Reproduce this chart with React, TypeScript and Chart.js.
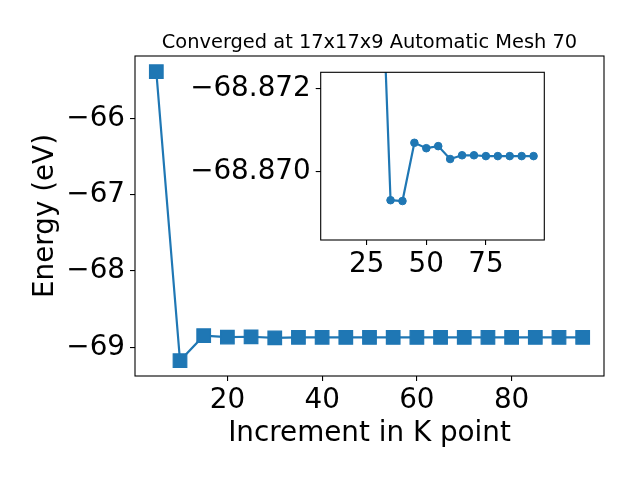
import React, { useEffect, useRef } from "react";
import { Chart, registerables } from "chart.js";

Chart.register(...registerables);

// ---- data ----
const kPoints = [5, 10, 15, 20, 25, 30, 35, 40, 45, 50, 55, 60, 65, 70, 75, 80, 85, 90, 95];
const energies = [
  -65.39, -69.176, -68.848, -68.866, -68.862, -68.877, -68.8693, -68.8693, -68.8707, -68.8706,
  -68.8706, -68.8703, -68.8704, -68.8704, -68.8704, -68.8704, -68.8704, -68.8704, -68.8704,
];
const insetKPoints = [30, 35, 40, 45, 50, 55, 60, 65, 70, 75, 80, 85, 90, 95];
const insetEnergies = [
  -68.877, -68.86931, -68.86929, -68.87069, -68.87056, -68.87061, -68.8703, -68.87039, -68.87039,
  -68.87037, -68.87037, -68.87037, -68.87037, -68.87037,
];
const mainXTicks = [20, 40, 60, 80];
const mainYTicks = [-69, -68, -67, -66];
const insetXTicks = [25, 50, 75];
const insetYTicks = [-68.872, -68.87];

const TITLE = "Converged at 17x17x9 Automatic Mesh 70";
const X_LABEL = "Increment in K point";
const Y_LABEL = "Energy (eV)";

const BLUE = "#1f77b4";
const FONT = "DejaVu Sans";

const minusFmt = (v: number, digits: number) =>
  (v < 0 ? "\u2212" : "") + Math.abs(v).toFixed(digits);

const boxPlugin = {
  id: "box",
  beforeDraw(chart: any) {
    const { ctx, chartArea: a } = chart;
    ctx.save();
    ctx.fillStyle = "#ffffff";
    ctx.fillRect(a.left, a.top, a.right - a.left, a.bottom - a.top);
    ctx.restore();
  },
  afterDraw(chart: any) {
    const { ctx, chartArea: a } = chart;
    ctx.save();
    ctx.strokeStyle = "#000";
    ctx.lineWidth = 1.1;
    ctx.strokeRect(a.left, a.top, a.right - a.left, a.bottom - a.top);
    ctx.restore();
  },
};

const titlePlugin = {
  id: "mplTitle",
  afterDraw(chart: any) {
    const { ctx, chartArea: a } = chart;
    ctx.save();
    ctx.fillStyle = "#000";
    ctx.font = `19.4px "${FONT}"`;
    ctx.textAlign = "center";
    ctx.textBaseline = "alphabetic";
    ctx.fillText(TITLE, (a.left + a.right) / 2, 48);
    ctx.restore();
  },
};

const tickGrid = {
  display: true,
  drawOnChartArea: false,
  drawTicks: true,
  tickLength: 5,
  color: "#000",
  lineWidth: 1.1,
};

const noPad = (s: any) => {
  s.paddingTop = 0;
  s.paddingBottom = 0;
  s.paddingLeft = 0;
  s.paddingRight = 0;
};

export default function App() {
  const mainRef = useRef<HTMLCanvasElement | null>(null);
  const insetRef = useRef<HTMLCanvasElement | null>(null);

  useEffect(() => {
    const main = new Chart(mainRef.current as HTMLCanvasElement, {
      type: "line",
      data: {
        datasets: [
          {
            data: kPoints.map((k, i) => ({ x: k, y: energies[i] })),
            borderColor: BLUE,
            backgroundColor: BLUE,
            borderWidth: 2.2,
            pointStyle: "rect",
            pointRadius: 9.6,
            pointBorderWidth: 1.2,
            pointBorderColor: BLUE,
            pointBackgroundColor: BLUE,
            tension: 0,
          },
        ],
      },
      options: {
        animation: false,
        responsive: false,
        maintainAspectRatio: false,
        layout: { padding: { top: 56, right: 36, left: 0, bottom: 0 } },
        plugins: { legend: { display: false }, tooltip: { enabled: false }, title: { display: false } },
        scales: {
          x: {
            type: "linear",
            min: 0.5,
            max: 99.5,
            afterFit: (s: any) => {
              s.height = 104;
              noPad(s);
            },
            afterBuildTicks: (s: any) => {
              s.ticks = mainXTicks.map((v) => ({ value: v }));
            },
            ticks: {
              font: { family: FONT, size: 27.8 },
              color: "#000",
              padding: 3,
              maxRotation: 0,
              autoSkip: false,
              callback: (v: any) => String(v),
            },
            grid: tickGrid,
            border: { display: false },
            title: {
              display: true,
              text: X_LABEL,
              color: "#000",
              font: { family: FONT, size: 27.8 },
              padding: { top: 0, bottom: 30 },
            },
          },
          y: {
            type: "linear",
            min: -69.376,
            max: -65.184,
            afterFit: (s: any) => {
              s.width = 135;
              noPad(s);
            },
            afterBuildTicks: (s: any) => {
              s.ticks = mainYTicks.map((v) => ({ value: v }));
            },
            ticks: {
              font: { family: FONT, size: 27.8 },
              color: "#000",
              padding: 5,
              autoSkip: false,
              callback: (v: any) => minusFmt(Number(v), 0),
            },
            grid: tickGrid,
            border: { display: false },
            title: {
              display: true,
              text: Y_LABEL,
              color: "#000",
              font: { family: FONT, size: 27.8 },
              padding: { top: 29, bottom: 0 },
            },
          },
        },
      },
      plugins: [boxPlugin, titlePlugin],
    } as any);

    const inset = new Chart(insetRef.current as HTMLCanvasElement, {
      type: "line",
      data: {
        datasets: [
          {
            data: insetKPoints.map((k, i) => ({ x: k, y: insetEnergies[i] })),
            borderColor: BLUE,
            backgroundColor: BLUE,
            borderWidth: 2.2,
            pointStyle: "circle",
            pointRadius: 3.8,
            pointBorderWidth: 1,
            pointBorderColor: BLUE,
            pointBackgroundColor: BLUE,
            tension: 0,
          },
        ],
      },
      options: {
        animation: false,
        responsive: false,
        maintainAspectRatio: false,
        layout: { padding: { top: 12.3, right: 15.7, left: 0, bottom: 0 } },
        plugins: { legend: { display: false }, tooltip: { enabled: false }, title: { display: false } },
        scales: {
          x: {
            type: "linear",
            min: 5.7,
            max: 99.5,
            afterFit: (s: any) => {
              s.height = 50;
              noPad(s);
            },
            afterBuildTicks: (s: any) => {
              s.ticks = insetXTicks.map((v) => ({ value: v }));
            },
            ticks: {
              font: { family: FONT, size: 27.8 },
              color: "#000",
              padding: 3,
              maxRotation: 0,
              autoSkip: false,
              callback: (v: any) => String(v),
            },
            grid: tickGrid,
            border: { display: false },
          },
          y: {
            type: "linear",
            reverse: true,
            min: -68.872385,
            max: -68.868353,
            afterFit: (s: any) => {
              s.width = 170.7;
              noPad(s);
            },
            afterBuildTicks: (s: any) => {
              s.ticks = insetYTicks.map((v) => ({ value: v }));
            },
            ticks: {
              font: { family: FONT, size: 27.8 },
              color: "#000",
              padding: 5,
              autoSkip: false,
              callback: (v: any) => minusFmt(Number(v), 3),
            },
            grid: tickGrid,
            border: { display: false },
          },
        },
      },
      plugins: [boxPlugin],
    } as any);

    return () => {
      main.destroy();
      inset.destroy();
    };
  }, []);

  return (
    <div style={{ position: "fixed", left: 0, top: 0, width: 640, height: 480, background: "#fff" }}>
      <canvas ref={mainRef} width={640} height={480} style={{ position: "absolute", left: 0, top: 0 }} />
      <canvas
        ref={insetRef}
        width={410}
        height={230}
        style={{ position: "absolute", left: 150, top: 60 }}
      />
    </div>
  );
}
